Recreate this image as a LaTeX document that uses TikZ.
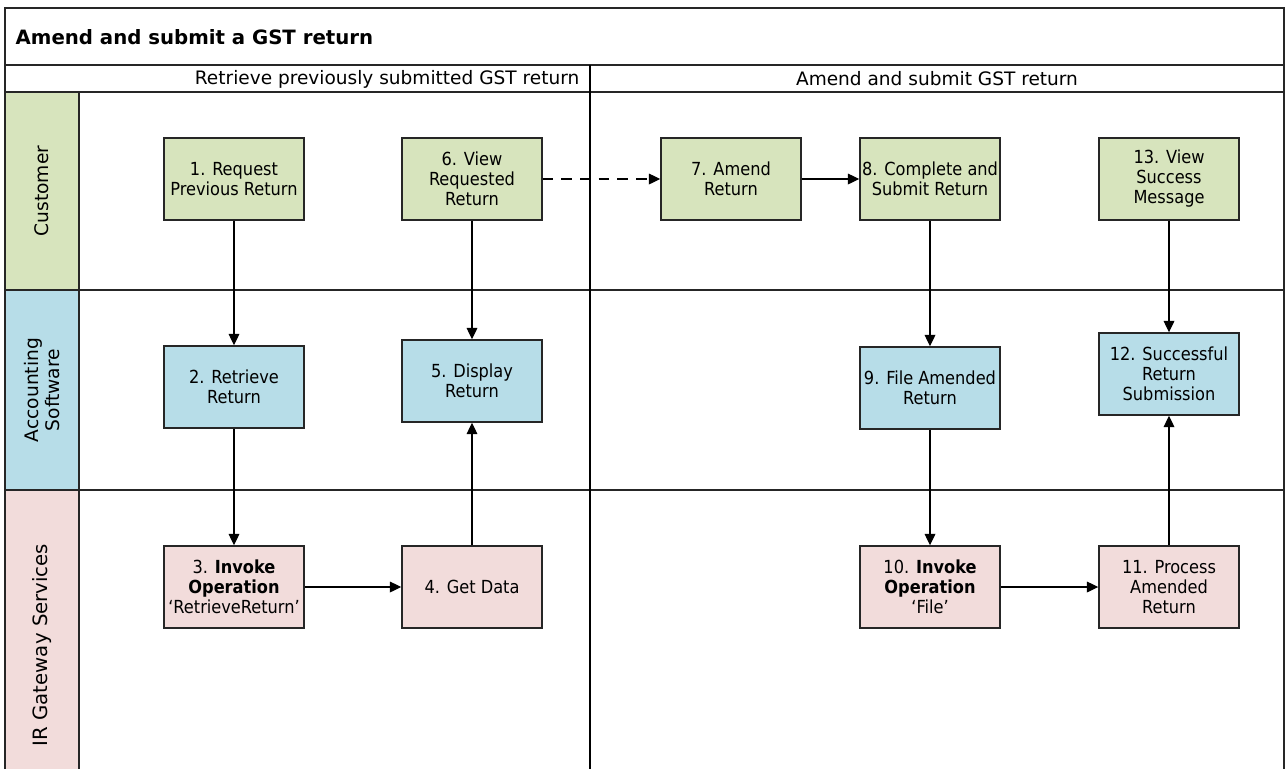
\documentclass[tikz,border=0pt]{standalone}
\usepackage{fontspec}
\setmainfont{DejaVu Sans}
\newfontfamily\boxfont{DejaVu Sans Condensed}
\usetikzlibrary{arrows.meta}
\definecolor{custgreen}{HTML}{D7E4BD}
\definecolor{softblue}{HTML}{B7DDE8}
\definecolor{irpink}{HTML}{F2DCDB}
\begin{document}
\begin{tikzpicture}[x=0.75pt, y=-0.75pt, >={Triangle[length=8.5pt,width=8pt]},
	frame/.style={line width=1.5pt, draw=black!85},
	stepbox/.style={draw=black!85, line width=1.1pt, minimum width=105pt, minimum height=61.5pt,
		align=center, inner sep=1pt, font=\boxfont\fontsize{13.5}{15}\selectfont},
	lanetext/.style={rotate=90, align=center, font=\fontsize{14}{16}\selectfont},
	flow/.style={->, line width=0.9pt}]
	\useasboundingbox (0,0) rectangle (1285,769);
	% lane heads
	\fill[custgreen] (5,92) rectangle (79,290);
	\fill[softblue] (5,290) rectangle (79,490);
	\fill[irpink] (5,490) rectangle (79,769);
	% frame
	\draw[frame] (5,769) -- (5,8) -- (1284,8) -- (1284,769);
	\draw[frame] (5,65) -- (1284,65);
	\draw[frame] (5,92) -- (1284,92);
	\draw[frame] (5,290) -- (1284,290);
	\draw[frame] (5,490) -- (1284,490);
	\draw[frame] (79,92) -- (79,769);
	\draw[line width=0.8pt] (590,65) -- (590,769);
	% titles
	\node[anchor=west, font=\bfseries\fontsize{14.8}{16}\selectfont] (title) at (11,37) {Amend and submit a GST return};
	\node[anchor=east, font=\fontsize{13.9}{16}\selectfont] (phaseA) at (584,79) {Retrieve previously submitted GST return};
	\node[font=\fontsize{13.9}{16}\selectfont] (phaseB) at (937,79) {Amend and submit GST return};
	\node[lanetext] (laneC) at (42,191) {Customer};
	\node[lanetext] (laneA) at (42,390) {Accounting\\Software};
	\node[lanetext, font=\fontsize{14.8}{16}\selectfont] (laneI) at (42,645) {IR Gateway Services};
	% customer
	\node[stepbox, fill=custgreen] (s1) at (234,179) {1. Request\\Previous Return};
	\node[stepbox, fill=custgreen] (s6) at (472,179) {6. View\\Requested\\Return};
	\node[stepbox, fill=custgreen] (s7) at (731,179) {7. Amend\\Return};
	\node[stepbox, fill=custgreen] (s8) at (930,179) {8. Complete and\\Submit Return};
	\node[stepbox, fill=custgreen] (s13) at (1169,179) {13. View\\Success\\Message};
	% accounting software
	\node[stepbox, fill=softblue] (s2) at (234,387) {2. Retrieve\\Return};
	\node[stepbox, fill=softblue] (s5) at (472,381) {5. Display\\Return};
	\node[stepbox, fill=softblue] (s9) at (930,388) {9. File Amended\\Return};
	\node[stepbox, fill=softblue] (s12) at (1169,374) {12. Successful\\Return\\Submission};
	% gateway
	\node[stepbox, fill=irpink] (s3) at (234,587) {3. \textbf{Invoke}\\\textbf{Operation}\\‘RetrieveReturn’};
	\node[stepbox, fill=irpink] (s4) at (472,587) {4. Get Data};
	\node[stepbox, fill=irpink] (s10) at (930,587) {10. \textbf{Invoke}\\\textbf{Operation}\\‘File’};
	\node[stepbox, fill=irpink] (s11) at (1169,587) {11. Process\\Amended\\Return};
	% flows
	\draw[flow] (s1) -- (s2);
	\draw[flow] (s2) -- (s3);
	\draw[flow] (s3) -- (s4);
	\draw[flow] (s4) -- (s5);
	\draw[flow] (s6) -- (s5);
	\draw[flow, dashed, dash pattern=on 8pt off 6pt] (s6) -- (s7);
	\draw[flow] (s7) -- (s8);
	\draw[flow] (s8) -- (s9);
	\draw[flow] (s9) -- (s10);
	\draw[flow] (s10) -- (s11);
	\draw[flow] (s11) -- (s12);
	\draw[flow] (s13) -- (s12);
\end{tikzpicture}
\end{document}
